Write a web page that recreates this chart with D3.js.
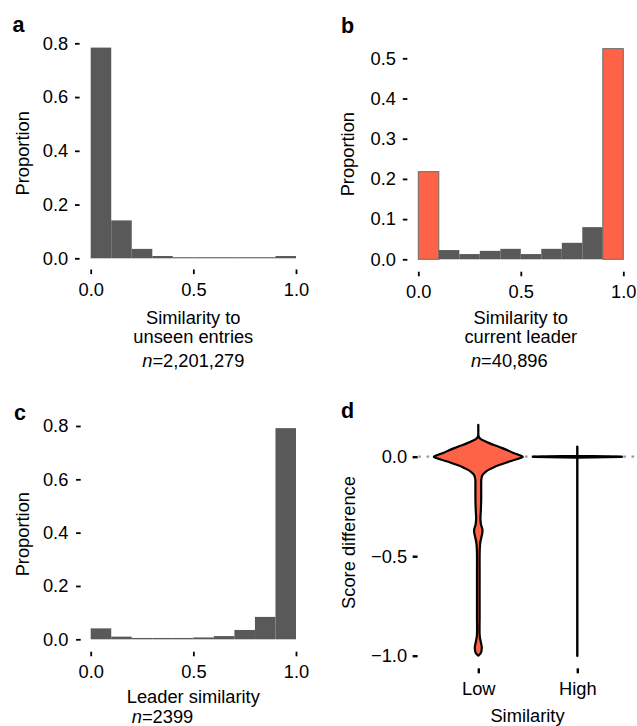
<!DOCTYPE html>
<html><head><meta charset="utf-8">
<script src="https://cdn.jsdelivr.net/npm/d3@7"></script>
<style>
body{margin:0;background:#fff}
text{font-family:"Liberation Sans",Arial,Helvetica,sans-serif;fill:#000}
</style>
</head><body>
<svg id="chart" width="637" height="726"></svg>
<script>
// ---------- data ----------
const binEdges = [0,0.1,0.2,0.3,0.4,0.5,0.6,0.7,0.8,0.9,1.0];
const unseenProps = [0.784,0.141,0.035,0.0085,0.004,0.004,0.004,0.004,0.004,0.0085];
const leaderProps = [0.218,0.023,0.013,0.021,0.026,0.013,0.026,0.041,0.080,0.524];
const leaderHighlight = [true,false,false,false,false,false,false,false,false,true];
const leaderSimProps = [0.041,0.010,0.005,0.005,0.005,0.007,0.012,0.035,0.084,0.792];
const xTicks = [0,0.5,1.0];
const yTicksA = [0,0.2,0.4,0.6,0.8];
const yTicksB = [0,0.1,0.2,0.3,0.4,0.5];
const yTicksC = [0,0.2,0.4,0.6,0.8];
const violinCats = ["Low","High"];
const yTicksD = [-1,-0.5,0];
// [score difference, relative half-width]
const lowViolin = [[0.16,0],[0.12,0],[0.10,0.01],[0.09,0.05],[0.08,0.13],[0.067,0.26],[0.055,0.40],[0.043,0.54],[0.03,0.68],[0.02,0.78],[0.01,0.9],[0,1.0],[-0.01,0.9],[-0.02,0.76],[-0.03,0.62],[-0.042,0.47],[-0.055,0.33],[-0.065,0.24],[-0.075,0.17],[-0.09,0.10],[-0.11,0.07],[-0.15,0.065],[-0.21,0.065],[-0.27,0.057],[-0.31,0.048],[-0.34,0.06],[-0.37,0.095],[-0.40,0.075],[-0.43,0.045],[-0.47,0.032],[-0.6,0.03],[-0.8,0.03],[-0.9,0.032],[-0.93,0.055],[-0.958,0.078],[-0.985,0.06],[-1.0,0]];
const highViolin = [[0.05,0],[0.004,0],[0,1],[-0.004,0],[-1.0,0]];

// ---------- style ----------
const FS = 18.3;
const barGrey = "#595959";
const orange = "#FF6347";
const fmt1 = d => d3.format(".1f")(d).replace("-", "\u2212");

const svg = d3.select("#chart");

function yAxis(g, y, ticks, x, len, pad, sw) {
  const ax = g.append("g").attr("transform", `translate(${x},0)`)
    .call(d3.axisLeft(y).tickValues(ticks).tickSize(len).tickPadding(pad).tickFormat(fmt1));
  ax.select(".domain").remove();
  ax.selectAll("line").attr("stroke", "#000").attr("stroke-width", sw);
  ax.selectAll("text").attr("font-size", FS).style("font-family", '"Liberation Sans",Arial,sans-serif');
}
function xAxis(g, x, ticks, yPos, len, pad, sw, f) {
  const ax = g.append("g").attr("transform", `translate(0,${yPos})`)
    .call(d3.axisBottom(x).tickValues(ticks).tickSize(len).tickPadding(pad).tickFormat(f));
  ax.select(".domain").remove();
  ax.selectAll("line").attr("stroke", "#000").attr("stroke-width", sw);
  ax.selectAll("text").attr("font-size", FS).style("font-family", '"Liberation Sans",Arial,sans-serif');
}
function letter(t, x, y) {
  svg.append("text").attr("x", x).attr("y", y).attr("font-size", 21.5).attr("font-weight", "bold").text(t);
}
function label(t, x, y, rot) {
  const tx = svg.append("text").attr("font-size", FS).attr("text-anchor", "middle").text(t);
  if (rot) tx.attr("transform", `translate(${x},${y}) rotate(-90)`);
  else tx.attr("x", x).attr("y", y);
}
function nLabel(num, x, y) {
  const t = svg.append("text").attr("x", x).attr("y", y).attr("font-size", FS).attr("text-anchor", "middle");
  t.append("tspan").attr("font-style", "italic").text("n");
  t.append("tspan").text("=" + num);
}
function hist(props, x, y, highlight) {
  const g = svg.append("g");
  g.selectAll("rect").data(props).join("rect")
    .attr("x", (d, i) => x(binEdges[i]))
    .attr("width", (d, i) => x(binEdges[i + 1]) - x(binEdges[i]))
    .attr("y", d => y(d))
    .attr("height", d => y(0) - y(d))
    .attr("fill", (d, i) => highlight && highlight[i] ? orange : barGrey)
    .attr("stroke", (d, i) => highlight && highlight[i] ? "#6b6b6b" : "none")
    .attr("stroke-width", 1);
}

// ---------- panel a ----------
{
  const x = d3.scaleLinear().domain([0, 1]).range([90.7, 296]);
  const y = d3.scaleLinear().domain([0, 0.8]).range([258.3, 43.3]);
  hist(unseenProps, x, y, null);
  yAxis(svg, y, yTicksA, 79.6, 4.6, 6.8, 1.8);
  xAxis(svg, x, xTicks, 269.5, 4.6, 8.5, 1.8, d3.format(".1f"));
  letter("a", 12.5, 31.5);
  label("Proportion", 28.5, 153.3, true);
  label("Similarity to", 193.3, 324);
  label("unseen entries", 193.3, 343);
  nLabel("2,201,279", 193.3, 366.5);
}
// ---------- panel b ----------
{
  const x = d3.scaleLinear().domain([0, 1]).range([418.3, 623.3]);
  const y = d3.scaleLinear().domain([0, 0.5]).range([259.3, 58.3]);
  hist(leaderProps, x, y, leaderHighlight);
  yAxis(svg, y, yTicksB, 407.4, 4.6, 6.8, 1.8);
  xAxis(svg, x, xTicks, 271.7, 4.6, 8.5, 1.8, d3.format(".1f"));
  letter("b", 341, 33.3);
  label("Proportion", 353.5, 154.2, true);
  label("Similarity to", 520.8, 324);
  label("current leader", 520.8, 343);
  nLabel("40,896", 509.3, 366.5);
}
// ---------- panel c ----------
{
  const x = d3.scaleLinear().domain([0, 1]).range([90.7, 296]);
  const y = d3.scaleLinear().domain([0, 0.8]).range([639.3, 426]);
  hist(leaderSimProps, x, y, null);
  yAxis(svg, y, yTicksC, 80.7, 4.6, 7.8, 1.8);
  xAxis(svg, x, xTicks, 651.7, 4.6, 8.5, 1.8, d3.format(".1f"));
  letter("c", 14, 420);
  label("Proportion", 28.5, 534.2, true);
  label("Leader similarity", 193.3, 703.3);
  nLabel("2399", 162.5, 723);
}
// ---------- panel d ----------
{
  const x = d3.scalePoint().domain(violinCats).range([478.3, 577.3]);
  const y = d3.scaleLinear().domain([-1, 0]).range([655.7, 456.7]);
  const maxHW = 44.5;
  svg.append("line").attr("x1", 418.3).attr("x2", 637).attr("y1", y(0)).attr("y2", y(0))
    .attr("stroke", "#9a9a9a").attr("stroke-width", 2.2).attr("stroke-dasharray", "2.6,5.6");
  const mk = (cx, curve) => d3.area()
    .y(d => y(d[0]))
    .x0(d => cx - maxHW * d[1])
    .x1(d => cx + maxHW * d[1])
    .curve(curve);
  svg.append("path").datum(lowViolin)
    .attr("d", mk(x("Low"), d3.curveCatmullRom.alpha(0.5)))
    .attr("fill", orange).attr("stroke", "#000").attr("stroke-width", 2.2).attr("stroke-linejoin", "round");
  svg.append("path").datum(highViolin)
    .attr("d", mk(x("High"), d3.curveLinear))
    .attr("fill", orange).attr("stroke", "#000").attr("stroke-width", 2.4).attr("stroke-linejoin", "round");
  yAxis(svg, y, yTicksD, 417.6, 5, 5.5, 2.4);
  xAxis(svg, x, violinCats, 668.3, 5, 8.5, 2.4, d => d);
  letter("d", 341, 418.3);
  label("Score difference", 354.5, 542.5, true);
  label("Similarity", 527.5, 721.7);
}
</script>
</body></html>
